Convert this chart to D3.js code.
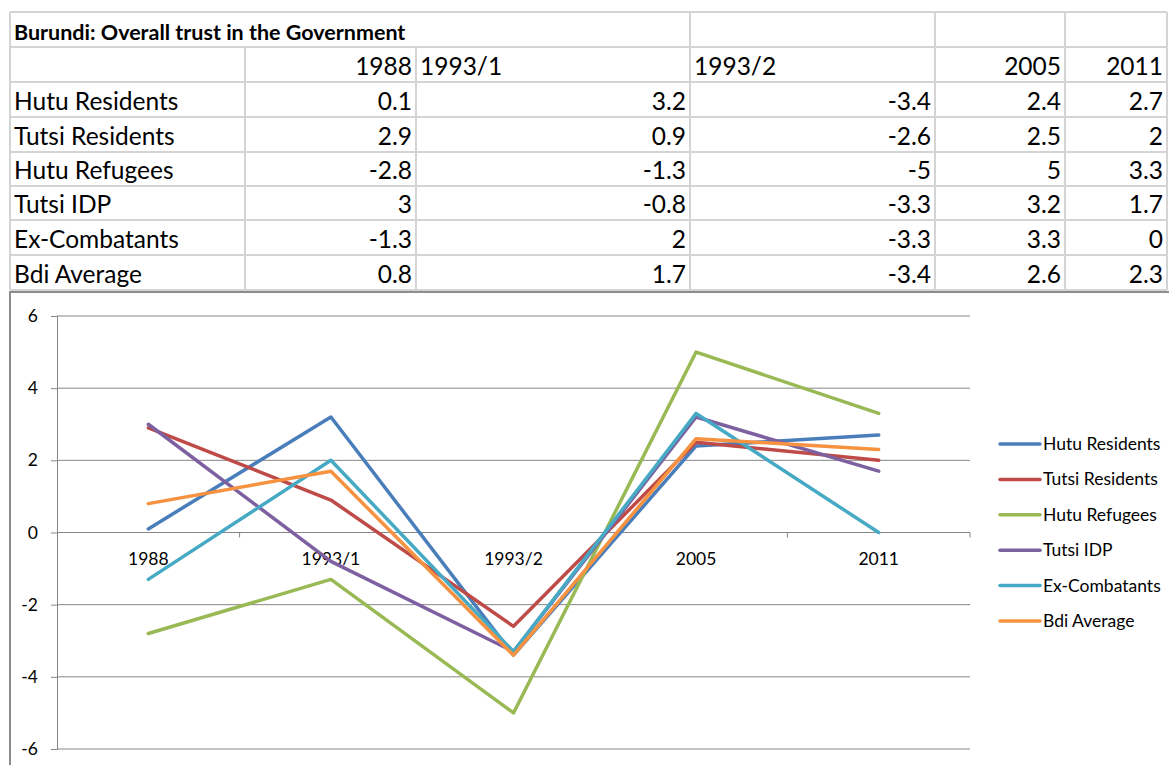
<!DOCTYPE html>
<html>
<head>
<meta charset="utf-8">
<script src="https://cdn.jsdelivr.net/npm/d3@7"></script>
<style>
  html, body { margin: 0; padding: 0; background: #fff; }
  svg { display: block; font-family: Lato, "Open Sans", sans-serif; }
</style>
</head>
<body>
<svg id="chart" width="1169" height="765"></svg>
<script>
const title = "Burundi: Overall trust in the Government";
const categories = ["1988", "1993/1", "1993/2", "2005", "2011"];
const seriesNames = ["Hutu Residents", "Tutsi Residents", "Hutu Refugees", "Tutsi IDP", "Ex-Combatants", "Bdi Average"];
const hutuResidents   = [0.1, 3.2, -3.4, 2.4, 2.7];
const tutsiResidents  = [2.9, 0.9, -2.6, 2.5, 2];
const hutuRefugees    = [-2.8, -1.3, -5, 5, 3.3];
const tutsiIDP        = [3, -0.8, -3.3, 3.2, 1.7];
const exCombatants    = [-1.3, 2, -3.3, 3.3, 0];
const bdiAverage      = [0.8, 1.7, -3.4, 2.6, 2.3];
const yTicks = [-6, -4, -2, 0, 2, 4, 6];
const colors = ["#4A7EBB", "#BE4B48", "#98B954", "#7D60A0", "#46AAC5", "#F69240"];

const seriesValues = [hutuResidents, tutsiResidents, hutuRefugees, tutsiIDP, exCombatants, bdiAverage];
const series = seriesNames.map((name, i) => ({ name, values: seriesValues[i], color: colors[i] }));

const svg = d3.select("#chart");

// ---------------- Table ----------------
const colEdges = [10, 245, 416, 690, 935, 1065, 1167];
const rowEdges = [12, 47, 82, 117, 152, 186, 220, 255, 290];
const gridColor = "#d4d4d4";
const tbl = svg.append("g").attr("class", "table");
const tableFont = 24.5;

rowEdges.forEach(y => {
  tbl.append("line").attr("x1", colEdges[0]).attr("x2", colEdges[colEdges.length - 1])
    .attr("y1", y).attr("y2", y).attr("stroke", gridColor).attr("stroke-width", 2);
});
colEdges.forEach((x, ci) => {
  const startRow = (ci === 0 || ci >= 3) ? 0 : 1;
  tbl.append("line").attr("x1", x).attr("x2", x)
    .attr("y1", rowEdges[startRow]).attr("y2", rowEdges[rowEdges.length - 1])
    .attr("stroke", gridColor).attr("stroke-width", 2);
});

function baseline(r) { return rowEdges[r + 1] - 7; }

tbl.append("text").attr("x", colEdges[0] + 4).attr("y", baseline(0))
  .attr("font-size", 21.5).attr("font-weight", "bold").attr("fill", "#000").text(title);

categories.forEach((c, i) => {
  const isText = isNaN(+c);
  tbl.append("text")
    .attr("x", isText ? colEdges[i + 1] + 4 : colEdges[i + 2] - 4)
    .attr("y", baseline(1))
    .attr("text-anchor", isText ? "start" : "end")
    .attr("font-size", tableFont).attr("fill", "#000").text(c);
});

series.forEach((s, r) => {
  tbl.append("text").attr("x", colEdges[0] + 4).attr("y", baseline(r + 2))
    .attr("font-size", tableFont).attr("fill", "#000").text(s.name);
  s.values.forEach((v, i) => {
    tbl.append("text").attr("x", colEdges[i + 2] - 4).attr("y", baseline(r + 2))
      .attr("text-anchor", "end").attr("font-size", tableFont).attr("fill", "#000").text(String(v));
  });
});

// ---------------- Chart ----------------
const chartTop = 292, chartLeft = 10;
svg.append("path")
  .attr("d", `M${chartLeft},765 V${chartTop} H1169`)
  .attr("fill", "none").attr("stroke", "#8c8c8c").attr("stroke-width", 2);

const plot = { left: 57, right: 970, top: 316, bottom: 749 };
const x = d3.scaleBand().domain(categories).range([plot.left, plot.right]);
const y = d3.scaleLinear().domain([-6, 6]).range([plot.bottom, plot.top]);
const axisColor = "#868686";

svg.append("g").selectAll("line").data(yTicks).join("line")
  .attr("x1", plot.left).attr("x2", plot.right)
  .attr("y1", d => y(d)).attr("y2", d => y(d))
  .attr("stroke", axisColor).attr("stroke-width", 1);

const yAxis = svg.append("g").attr("transform", `translate(${plot.left},0)`)
  .call(d3.axisLeft(y).tickValues(yTicks).tickFormat(d => String(d)).tickSize(6).tickPadding(13));
yAxis.select(".domain").attr("stroke", axisColor);
yAxis.selectAll(".tick line").attr("stroke", axisColor);
yAxis.selectAll(".tick text").attr("font-size", 17.5).attr("font-family", "Lato, sans-serif").attr("fill", "#000");

const xAxisG = svg.append("g").attr("transform", `translate(0,${y(0)})`);
xAxisG.append("line").attr("x1", plot.left).attr("x2", plot.right).attr("y1", 0).attr("y2", 0)
  .attr("stroke", axisColor).attr("stroke-width", 1);
const boundaries = categories.map(c => x(c) + x.bandwidth());
xAxisG.selectAll("line.tk").data(boundaries).join("line").attr("class", "tk")
  .attr("x1", d => d).attr("x2", d => d).attr("y1", 0).attr("y2", 5)
  .attr("stroke", axisColor);
xAxisG.selectAll("text").data(categories).join("text")
  .attr("x", d => x(d) + x.bandwidth() / 2).attr("y", 32)
  .attr("text-anchor", "middle").attr("font-size", 17.5).attr("fill", "#000").text(d => d);

const line = d3.line()
  .x((d, i) => x(categories[i]) + x.bandwidth() / 2)
  .y(d => y(d));
svg.append("g").selectAll("path").data(series).join("path")
  .attr("d", d => line(d.values))
  .attr("fill", "none").attr("stroke", d => d.color)
  .attr("stroke-width", 3.5).attr("stroke-linejoin", "round").attr("stroke-linecap", "round");

const legendY = d3.scalePoint().domain(seriesNames).range([444, 621]);
const legend = svg.append("g").selectAll("g").data(series).join("g")
  .attr("transform", d => `translate(0,${legendY(d.name)})`);
legend.append("line").attr("x1", 1000).attr("x2", 1040).attr("y1", 0).attr("y2", 0)
  .attr("stroke", d => d.color).attr("stroke-width", 3.5).attr("stroke-linecap", "round");
legend.append("text").attr("x", 1043).attr("y", 6).attr("font-size", 17.5).attr("fill", "#000")
  .text(d => d.name);
</script>
</body>
</html>
